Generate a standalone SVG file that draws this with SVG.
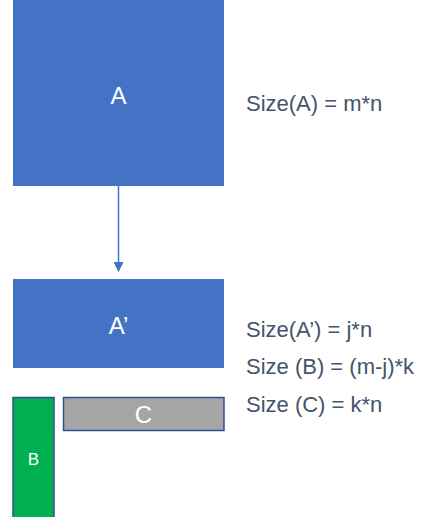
<svg xmlns="http://www.w3.org/2000/svg" width="423" height="517" viewBox="0 0 423 517">
<style>
.blue{fill:#4472C4}
.lbl{font-family:"Liberation Sans",Arial,sans-serif;fill:#fff;text-anchor:middle}
.note{font-family:"Liberation Sans",Arial,sans-serif;fill:#44546A;font-size:22px}
.box{stroke:#2F528F;stroke-width:1.5}
</style>
<defs>
<marker id="arr" markerWidth="10" markerHeight="10" refX="9" refY="5" orient="auto" markerUnits="userSpaceOnUse">
<path d="M0,0 L10,5 L0,10 z" fill="#4472C4"/>
</marker>
</defs>
<g id="connectors">
<line x1="118.5" y1="186" x2="118.5" y2="271" stroke="#4472C4" stroke-width="1.5" marker-end="url(#arr)"/>
</g>
<g id="A">
<rect class="blue" x="13" y="0" width="211" height="186"/>
<text class="lbl" x="118.5" y="104" font-size="24">A</text>
</g>
<g id="Aprime">
<rect class="blue" x="13" y="279" width="211" height="89"/>
<text class="lbl" x="118.5" y="334" font-size="24">A’</text>
</g>
<g id="B">
<rect class="box" x="13" y="397.5" width="41" height="121" fill="#00B050"/>
<text class="lbl" x="33.5" y="465" font-size="17">B</text>
</g>
<g id="C">
<rect class="box" x="63.5" y="397.5" width="160.5" height="33" fill="#A5A5A5"/>
<text class="lbl" x="143.5" y="423" font-size="24">C</text>
</g>
<g id="notes">
<text class="note" x="246" y="111">Size(A) = m*n</text>
<text class="note" x="246" y="337">Size(A’) = j*n</text>
<text class="note" x="246" y="374">Size (B) = (m-j)*k</text>
<text class="note" x="246" y="412">Size (C) = k*n</text>
</g>
</svg>
